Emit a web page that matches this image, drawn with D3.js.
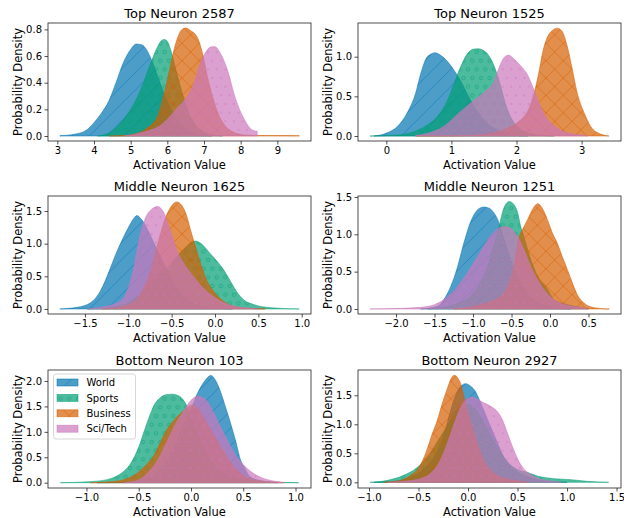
<!DOCTYPE html>
<html>
<head>
<meta charset="utf-8">
<script src="https://cdn.jsdelivr.net/npm/d3@7"></script>
<style>
  body { margin: 0; background: #fff; }
  svg { display: block; }
  text { font-family: "DejaVu Sans", sans-serif; fill: #000; }
</style>
</head>
<body>
<svg id="fig" width="624" height="518"></svg>
<script>
// ---- categories and styling keys ----
const categories = ["World", "Sports", "Business", "Sci/Tech"];
const colors = ["#0173b2", "#029e73", "#d55e00", "#cc78bc"];
const hatches = ["/", "o", "x", "."];
const titles = ["Top Neuron 2587", "Top Neuron 1525", "Middle Neuron 1625",
                "Middle Neuron 1251", "Bottom Neuron 103", "Bottom Neuron 2927"];

// ---- density curves: [activation, density] ----
const n2587World = [[3.07,0.002],[3.5,0.015],[3.8,0.045],[4.0,0.1],[4.2,0.17],[4.4,0.26],[4.6,0.4],[4.8,0.55],[5.0,0.65],[5.15,0.69],[5.3,0.685],[5.45,0.64],[5.6,0.55],[5.8,0.4],[6.0,0.26],[6.2,0.15],[6.4,0.08],[6.7,0.025],[7.0,0.006],[7.2,0]];
const n2587Sports = [[4.1,0],[4.45,0.03],[4.73,0.1],[5.0,0.2],[5.27,0.345],[5.55,0.55],[5.7,0.65],[5.82,0.71],[5.92,0.725],[6.02,0.7],[6.12,0.62],[6.25,0.48],[6.4,0.33],[6.55,0.2],[6.75,0.09],[7.0,0.03],[7.3,0.006],[7.5,0]];
const n2587Business = [[4.41,0],[4.8,0.003],[5.18,0.02],[5.45,0.06],[5.73,0.145],[5.86,0.26],[6.0,0.42],[6.14,0.6],[6.27,0.73],[6.4,0.8],[6.5,0.81],[6.64,0.79],[6.82,0.74],[6.96,0.62],[7.09,0.45],[7.25,0.28],[7.4,0.16],[7.6,0.07],[7.8,0.03],[8.1,0.008],[8.5,0.004],[9.0,0.003],[9.6,0.002]];
const n2587SciTech = [[4.82,0],[5.1,0.012],[5.36,0.03],[5.6,0.05],[5.82,0.08],[6.05,0.14],[6.27,0.21],[6.5,0.28],[6.7,0.38],[6.9,0.545],[7.05,0.63],[7.2,0.67],[7.3,0.67],[7.45,0.62],[7.64,0.495],[7.86,0.28],[8.09,0.13],[8.32,0.045],[8.45,0.035]];

const n1525World = [[-0.19,0],[0.015,0.04],[0.17,0.12],[0.32,0.29],[0.45,0.54],[0.53,0.79],[0.6,0.96],[0.68,1.03],[0.75,1.05],[0.83,1.02],[0.94,0.94],[1.04,0.83],[1.14,0.7],[1.25,0.52],[1.35,0.37],[1.55,0.16],[1.76,0.055],[1.96,0.013],[2.17,0]];
const n1525Sports = [[-0.25,0],[0.12,0.01],[0.42,0.055],[0.63,0.14],[0.78,0.24],[0.94,0.45],[1.04,0.66],[1.14,0.87],[1.24,1.03],[1.32,1.09],[1.4,1.1],[1.5,1.075],[1.6,0.98],[1.68,0.83],[1.76,0.62],[1.83,0.41],[1.91,0.24],[2.01,0.12],[2.17,0.04],[2.37,0.01],[2.58,0]];
const n1525Business = [[0.45,0],[1.0,0.002],[1.3,0.008],[1.65,0.04],[1.91,0.12],[2.06,0.2],[2.17,0.31],[2.27,0.54],[2.35,0.83],[2.4,1.05],[2.47,1.24],[2.55,1.33],[2.63,1.36],[2.7,1.32],[2.78,1.13],[2.86,0.83],[2.93,0.55],[3.04,0.29],[3.14,0.12],[3.29,0.025],[3.42,0]];
const n1525SciTech = [[0.45,0.005],[0.7,0.05],[0.9,0.13],[1.1,0.28],[1.3,0.42],[1.5,0.55],[1.65,0.68],[1.75,0.9],[1.82,1.0],[1.88,1.02],[1.96,0.97],[2.06,0.89],[2.17,0.77],[2.27,0.58],[2.37,0.37],[2.47,0.22],[2.58,0.13],[2.73,0.055],[2.99,0.013],[3.09,0]];

const n1625World = [[-1.79,0],[-1.59,0.025],[-1.43,0.1],[-1.32,0.28],[-1.22,0.58],[-1.15,0.82],[-1.07,1.06],[-0.99,1.27],[-0.935,1.39],[-0.9,1.43],[-0.86,1.39],[-0.82,1.32],[-0.78,1.22],[-0.7,1.0],[-0.6,0.72],[-0.5,0.46],[-0.4,0.26],[-0.25,0.09],[-0.05,0.02],[0.2,0]];
const n1625Sports = [[-1.47,0],[-1.35,0.008],[-1.13,0.04],[-0.97,0.12],[-0.82,0.27],[-0.67,0.47],[-0.51,0.68],[-0.4,0.86],[-0.32,0.97],[-0.23,1.04],[-0.15,0.99],[-0.07,0.87],[0.03,0.72],[0.1,0.6],[0.18,0.42],[0.26,0.245],[0.33,0.14],[0.45,0.066],[0.64,0.02],[0.97,0]];
const n1625Business = [[-1.3,0],[-1.1,0.03],[-0.95,0.1],[-0.85,0.25],[-0.75,0.55],[-0.65,1.05],[-0.57,1.4],[-0.5,1.58],[-0.44,1.64],[-0.38,1.58],[-0.33,1.44],[-0.28,1.2],[-0.22,0.93],[-0.16,0.67],[-0.1,0.45],[-0.02,0.28],[0.06,0.16],[0.16,0.07],[0.3,0.02],[0.58,0]];
const n1625SciTech = [[-1.47,0],[-1.3,0.03],[-1.15,0.08],[-1.05,0.18],[-0.95,0.55],[-0.87,1.1],[-0.8,1.4],[-0.72,1.54],[-0.66,1.57],[-0.6,1.5],[-0.52,1.22],[-0.44,0.9],[-0.35,0.68],[-0.25,0.5],[-0.15,0.34],[-0.05,0.22],[0.05,0.13],[0.15,0.07],[0.3,0.025],[0.5,0]];

const n1251World = [[-1.68,0],[-1.46,0.036],[-1.38,0.125],[-1.29,0.3],[-1.2,0.57],[-1.12,0.88],[-1.03,1.17],[-0.94,1.33],[-0.86,1.365],[-0.79,1.35],[-0.73,1.29],[-0.68,1.2],[-0.6,0.95],[-0.51,0.66],[-0.42,0.44],[-0.29,0.21],[-0.12,0.08],[0.05,0.02],[0.27,0]];
const n1251Sports = [[-1.59,0],[-1.46,0.013],[-1.25,0.058],[-1.03,0.17],[-0.9,0.35],[-0.81,0.57],[-0.75,0.79],[-0.68,1.02],[-0.64,1.2],[-0.6,1.35],[-0.53,1.44],[-0.47,1.4],[-0.42,1.29],[-0.38,1.1],[-0.34,0.97],[-0.25,0.66],[-0.16,0.44],[-0.03,0.26],[0.05,0.125],[0.23,0.058],[0.44,0.013],[0.5,0]];
const n1251Business = [[-1.25,0],[-1.12,0.013],[-0.9,0.058],[-0.77,0.1],[-0.64,0.17],[-0.55,0.3],[-0.47,0.57],[-0.4,0.97],[-0.36,1.06],[-0.29,1.2],[-0.23,1.33],[-0.16,1.41],[-0.1,1.35],[-0.035,1.2],[0.03,1.02],[0.095,0.88],[0.16,0.7],[0.225,0.53],[0.29,0.35],[0.355,0.19],[0.44,0.08],[0.57,0.018],[0.77,0]];
const n1251SciTech = [[-2.34,0],[-1.9,0.01],[-1.68,0.022],[-1.5,0.058],[-1.38,0.125],[-1.25,0.24],[-1.12,0.415],[-0.99,0.62],[-0.86,0.84],[-0.77,0.98],[-0.68,1.07],[-0.62,1.1],[-0.55,1.1],[-0.49,1.06],[-0.42,0.97],[-0.34,0.8],[-0.25,0.57],[-0.16,0.39],[-0.08,0.26],[0.05,0.125],[0.23,0.05],[0.44,0.013],[0.48,0]];

const n103World = [[-0.9,0],[-0.65,0.01],[-0.45,0.07],[-0.3,0.25],[-0.2,0.55],[-0.1,1.0],[0,1.45],[0.06,1.75],[0.124,1.98],[0.19,2.11],[0.236,2.01],[0.284,1.78],[0.33,1.49],[0.38,1.16],[0.43,0.8],[0.475,0.44],[0.507,0.31],[0.57,0.11],[0.7,0.026],[0.83,0]];
const n103Sports = [[-1.25,0],[-0.93,0.026],[-0.77,0.08],[-0.67,0.18],[-0.58,0.37],[-0.5,0.7],[-0.45,1.0],[-0.4,1.29],[-0.354,1.52],[-0.306,1.65],[-0.24,1.73],[-0.18,1.74],[-0.13,1.72],[-0.083,1.65],[-0.05,1.55],[0,1.29],[0.06,0.96],[0.124,0.67],[0.19,0.44],[0.28,0.24],[0.41,0.11],[0.57,0.046],[0.76,0.013],[1.03,0]];
const n103Business = [[-0.96,0],[-0.77,0.02],[-0.64,0.06],[-0.545,0.145],[-0.45,0.31],[-0.354,0.54],[-0.29,0.8],[-0.226,1.06],[-0.163,1.23],[-0.1,1.36],[-0.05,1.45],[0,1.53],[0.05,1.5],[0.1,1.36],[0.2,1.0],[0.3,0.65],[0.4,0.35],[0.5,0.15],[0.6,0.06],[0.75,0.02],[0.89,0.005]];
const n103SciTech = [[-0.64,0],[-0.51,0.046],[-0.42,0.18],[-0.32,0.44],[-0.226,0.83],[-0.147,1.16],[-0.067,1.42],[0,1.62],[0.06,1.7],[0.108,1.68],[0.156,1.59],[0.22,1.36],[0.284,1.09],[0.35,0.83],[0.41,0.6],[0.475,0.41],[0.54,0.275],[0.6,0.18],[0.7,0.08],[0.83,0.02],[0.89,0]];

const n2927World = [[-0.95,0],[-0.75,0.017],[-0.58,0.09],[-0.44,0.235],[-0.34,0.44],[-0.24,0.84],[-0.175,1.24],[-0.125,1.5],[-0.074,1.655],[-0.024,1.7],[0.027,1.655],[0.077,1.56],[0.11,1.44],[0.16,1.24],[0.23,0.95],[0.3,0.67],[0.36,0.44],[0.46,0.235],[0.57,0.12],[0.7,0.046],[0.87,0.011],[1.0,0]];
const n2927Sports = [[-0.99,0],[-0.81,0.035],[-0.65,0.12],[-0.51,0.26],[-0.41,0.44],[-0.31,0.7],[-0.2,1.0],[-0.1,1.25],[0,1.35],[0.1,1.2],[0.2,0.9],[0.3,0.6],[0.4,0.35],[0.5,0.22],[0.6,0.17],[0.7,0.11],[0.87,0.063],[1.04,0.046],[1.2,0.017],[1.42,0]];
const n2927Business = [[-0.85,0],[-0.68,0.035],[-0.58,0.12],[-0.495,0.26],[-0.43,0.49],[-0.36,0.84],[-0.31,1.07],[-0.26,1.36],[-0.21,1.61],[-0.17,1.79],[-0.14,1.845],[-0.1,1.79],[-0.074,1.7],[-0.04,1.47],[-0.007,1.24],[0.044,0.95],[0.094,0.67],[0.16,0.38],[0.23,0.21],[0.33,0.09],[0.46,0.035],[0.6,0]];
const n2927SciTech = [[-0.81,0],[-0.65,0.017],[-0.48,0.063],[-0.38,0.15],[-0.28,0.38],[-0.21,0.67],[-0.14,1.01],[-0.074,1.3],[-0.007,1.44],[0.044,1.47],[0.094,1.43],[0.16,1.37],[0.23,1.31],[0.3,1.21],[0.35,1.07],[0.4,0.84],[0.45,0.61],[0.5,0.41],[0.55,0.26],[0.62,0.15],[0.7,0.075],[0.835,0.023],[0.94,0]];

const panelSeries = [
  [n2587World, n2587Sports, n2587Business, n2587SciTech],
  [n1525World, n1525Sports, n1525Business, n1525SciTech],
  [n1625World, n1625Sports, n1625Business, n1625SciTech],
  [n1251World, n1251Sports, n1251Business, n1251SciTech],
  [n103World, n103Sports, n103Business, n103SciTech],
  [n2927World, n2927Sports, n2927Business, n2927SciTech]
];

// ---- axis limits and ticks ----
const xLimits = [[2.746, 9.918], [-0.435, 3.605], [-1.926, 1.107], [-2.494, 0.922], [-1.368, 1.148], [-1.111, 1.545]];
const yLimits = [[-0.0375, 0.848], [-0.063, 1.425], [-0.077, 1.73], [-0.067, 1.513], [-0.104, 2.216], [-0.098, 1.936]];
const xTicks = [
  [3, 4, 5, 6, 7, 8, 9],
  [0, 1, 2, 3],
  [-1.5, -1.0, -0.5, 0.0, 0.5, 1.0],
  [-2.0, -1.5, -1.0, -0.5, 0.0, 0.5],
  [-1.0, -0.5, 0.0, 0.5, 1.0],
  [-1.0, -0.5, 0.0, 0.5, 1.0, 1.5]
];
const xTickFormats = ["d", "d", ".1f", ".1f", ".1f", ".1f"];
const yTicks = [
  [0.0, 0.2, 0.4, 0.6, 0.8],
  [0.0, 0.5, 1.0],
  [0.0, 0.5, 1.0, 1.5],
  [0.0, 0.5, 1.0, 1.5],
  [0.0, 0.5, 1.0, 1.5, 2.0],
  [0.0, 0.5, 1.0, 1.5]
];

// ---- layout ----
const colLeft = [48, 358];
const rowTop = [23, 196, 370];
const plotW = 263, plotH = 118;
const ALPHA = 0.7;
const HATCH_W = 0.72;
const LINE_SP = 52 / 3;     // spacing of diagonal hatch lines
const DOT_SP = 52 / 6;      // spacing of circle / dot hatch rows

const svg = d3.select("#fig");
const defs = svg.append("defs");

// hatch patterns, one per category
function makePattern(i) {
  const c = colors[i], h = hatches[i];
  let p;
  if (h === "/" || h === "x") {
    const s = LINE_SP;
    p = defs.append("pattern").attr("id", "hatch" + i)
      .attr("patternUnits", "userSpaceOnUse").attr("width", s).attr("height", s);
    let d = `M0,${s} L${s},0 M-2,2 L2,-2 M${s - 2},${s + 2} L${s + 2},${s - 2}`;
    if (h === "x") d += ` M0,0 L${s},${s} M-2,${s - 2} L2,${s + 2} M${s - 2},-2 L${s + 2},2`;
    p.append("path").attr("d", d).attr("stroke", c).attr("stroke-opacity", ALPHA)
      .attr("stroke-width", HATCH_W).attr("fill", "none");
  } else {
    const w = DOT_SP, hh = DOT_SP * 2;
    p = defs.append("pattern").attr("id", "hatch" + i)
      .attr("patternUnits", "userSpaceOnUse").attr("width", w).attr("height", hh);
    const pts = [[0, 0], [w, 0], [0, hh], [w, hh], [w / 2, hh / 2]];
    pts.forEach(([cx, cy]) => {
      const circ = p.append("circle").attr("cx", cx).attr("cy", cy);
      if (h === "o") {
        circ.attr("r", 1.73).attr("fill", "none").attr("stroke", c)
          .attr("stroke-opacity", ALPHA).attr("stroke-width", HATCH_W);
      } else {
        circ.attr("r", 0.9).attr("fill", c).attr("fill-opacity", ALPHA);
      }
    });
  }
}
categories.forEach((_, i) => makePattern(i));

const fmtY = d3.format(".1f");

panelSeries.forEach((series, pi) => {
  const left = colLeft[pi % 2];
  const top = rowTop[Math.floor(pi / 2)];
  const x = d3.scaleLinear().domain(xLimits[pi]).range([left, left + plotW]);
  const y = d3.scaleLinear().domain(yLimits[pi]).range([top + plotH, top]);

  const g = svg.append("g");
  defs.append("clipPath").attr("id", "clip" + pi)
    .append("rect").attr("x", left).attr("y", top).attr("width", plotW).attr("height", plotH);

  const area = d3.area()
    .x(d => x(d[0])).y0(y(0)).y1(d => y(d[1]))
    .curve(d3.curveMonotoneX);

  const plot = g.append("g").attr("clip-path", `url(#clip${pi})`);
  series.forEach((pts, si) => {
    plot.append("path").attr("d", area(pts))
      .attr("fill", colors[si]).attr("fill-opacity", ALPHA)
      .attr("stroke", colors[si]).attr("stroke-opacity", ALPHA)
      .attr("stroke-width", HATCH_W).attr("stroke-linejoin", "round");
    plot.append("path").attr("d", area(pts))
      .attr("fill", `url(#hatch${si})`).attr("stroke", "none");
  });

  // axes
  const fmtX = d3.format(xTickFormats[pi]);
  const xAxis = d3.axisBottom(x).tickValues(xTicks[pi]).tickFormat(fmtX)
    .tickSize(3.5).tickPadding(2.5);
  const yAxis = d3.axisLeft(y).tickValues(yTicks[pi]).tickFormat(fmtY)
    .tickSize(3.5).tickPadding(2.5);

  const gx = g.append("g").attr("transform", `translate(0,${top + plotH})`).call(xAxis);
  const gy = g.append("g").attr("transform", `translate(${left},0)`).call(yAxis);
  [gx, gy].forEach(ax => {
    ax.select(".domain").remove();
    ax.selectAll(".tick line").attr("stroke", "#222").attr("stroke-width", 0.8);
    ax.selectAll(".tick text").attr("font-size", 10)
      .attr("font-family", "DejaVu Sans, sans-serif").attr("fill", "#000");
  });

  // frame
  g.append("rect").attr("x", left).attr("y", top).attr("width", plotW).attr("height", plotH)
    .attr("fill", "none").attr("stroke", "#222").attr("stroke-width", 0.8);

  // title and axis labels
  g.append("text").attr("x", left + plotW / 2).attr("y", top - 5)
    .attr("text-anchor", "middle").attr("font-size", 13).text(titles[pi]);
  g.append("text").attr("x", left + plotW / 2).attr("y", top + plotH + 27.5)
    .attr("text-anchor", "middle").attr("font-size", 11.5).text("Activation Value");
  g.append("text")
    .attr("transform", `translate(${left - 26},${top + plotH / 2}) rotate(-90)`)
    .attr("text-anchor", "middle").attr("font-size", 11.5).text("Probability Density");

  // legend in the bottom-left panel
  if (pi === 4) {
    const lg = g.append("g");
    const lx = left + 5.5, ly = top + 4;
    lg.append("rect").attr("x", lx).attr("y", ly).attr("width", 82).attr("height", 65)
      .attr("rx", 2.5).attr("fill", "#fff").attr("fill-opacity", 0.8)
      .attr("stroke", "#cccccc").attr("stroke-width", 0.8);
    categories.forEach((name, i) => {
      const cy = ly + 8.5 + i * 15.4;
      lg.append("rect").attr("x", lx + 3.5).attr("y", cy - 3.5).attr("width", 21).attr("height", 7)
        .attr("fill", colors[i]).attr("fill-opacity", ALPHA)
        .attr("stroke", colors[i]).attr("stroke-opacity", ALPHA).attr("stroke-width", HATCH_W);
      lg.append("rect").attr("x", lx + 3.5).attr("y", cy - 3.5).attr("width", 21).attr("height", 7)
        .attr("fill", `url(#hatch${i})`);
      lg.append("text").attr("x", lx + 33).attr("y", cy + 3.6)
        .attr("font-size", 10).text(name);
    });
  }
});
</script>
</body>
</html>
